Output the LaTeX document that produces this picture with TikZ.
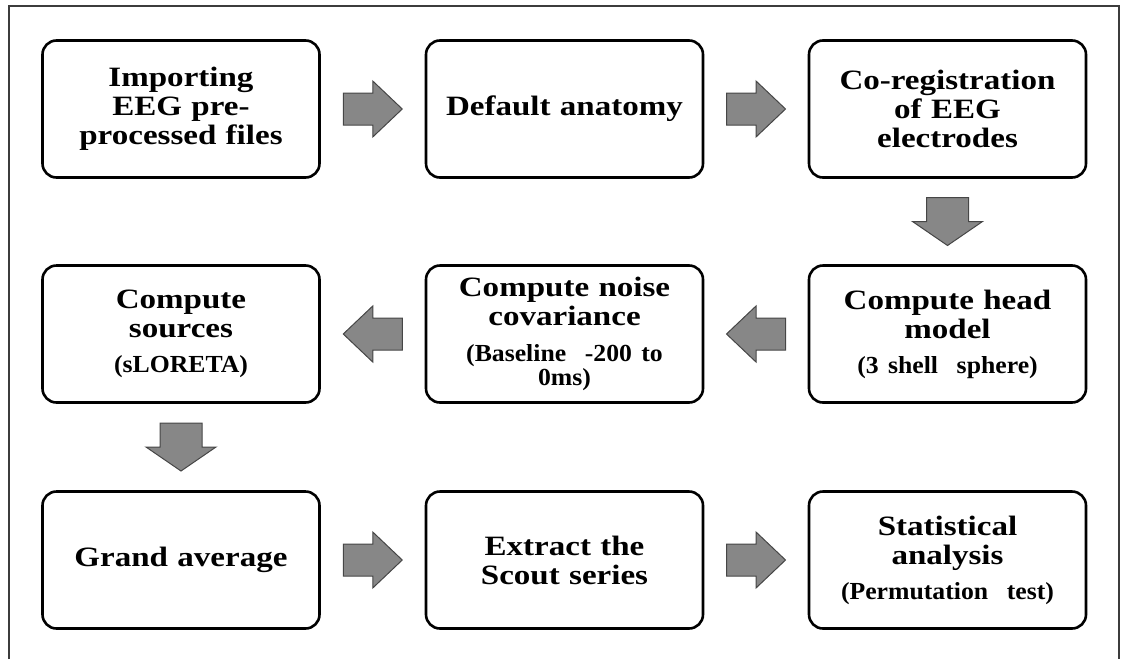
\documentclass[tikz,border=0pt]{standalone}
\usepackage{fontspec}
\newfontfamily\boxfont{Liberation Serif}[FakeStretch=1.18]
\newfontfamily\subfont{Liberation Serif}[FakeStretch=1.05]
\definecolor{arrowfill}{RGB}{135,135,135}
\definecolor{arrowline}{RGB}{70,70,70}
\definecolor{framecol}{RGB}{60,60,60}
\newcommand\sublabel[1]{{\subfont\bfseries\fontsize{24.5}{24}\selectfont #1\par}}
\newcommand\hblock[2]{%
  \draw[blockarrow, shift={(#1)}, xscale=#2]
    (-29.5,-16) -- (0,-16) -- (0,-28) -- (29.5,0) -- (0,28) -- (0,16) -- (-29.5,16) -- cycle;}
\newcommand\vblock[1]{%
  \draw[blockarrow, shift={(#1)}]
    (-21,-24) -- (-21,0) -- (-35,0) -- (0,24) -- (35,0) -- (21,0) -- (21,-24) -- cycle;}
\tikzset{
  stepbox/.style={draw=black, line width=2.6pt, rounded corners=14pt, fill=white,
    minimum width=277pt, minimum height=137pt, text width=263pt, inner sep=7pt,
    align=center, font=\boxfont\bfseries\fontsize{28}{29}\selectfont},
  blockarrow/.style={fill=arrowfill, draw=arrowline, line width=1pt, line join=miter},
  frameline/.style={draw=framecol, line width=1.6pt}
}
\begin{document}
\begin{tikzpicture}[x=1pt,y=-1pt]
\useasboundingbox (0,0) rectangle (1123,659);
\draw[frameline] (9,659) -- (9,6) -- (1119,6) -- (1119,659);

\node[stepbox] (imp) at (181,109) {Importing\\EEG pre-\\processed files};
\node[stepbox] (anat) at (564.5,109) {Default anatomy};
\node[stepbox] (coreg) at (947.5,109) {Co-registration\\of EEG\\electrodes};

\node[stepbox] (src) at (181,334) {Compute\\sources\par\vspace{11pt}\sublabel{(sLORETA)}};
\node[stepbox] (noise) at (564.5,334) {Compute noise\\covariance\par\vspace{12pt}\sublabel{(Baseline\ \ -200 to\\0ms)}};
\node[stepbox] (head) at (947.5,334) {Compute head\\model\par\vspace{11pt}\sublabel{(3 shell\ \ sphere)}};

\node[stepbox] (grand) at (181,560) {Grand average};
\node[stepbox] (scout) at (564.5,560) {Extract the\\Scout series};
\node[stepbox] (stat) at (947.5,560) {Statistical\\analysis\par\vspace{11pt}\sublabel{(Permutation\ \ test)}};

\path (imp.east) -- (anat.west) coordinate[midway] (a1);
\path (anat.east) -- (coreg.west) coordinate[midway] (a2);
\path (coreg.south) -- (head.north) coordinate[midway] (a3);
\path (head.west) -- (noise.east) coordinate[midway] (a4);
\path (noise.west) -- (src.east) coordinate[midway] (a5);
\path (src.south) -- (grand.north) coordinate[midway] (a6);
\path (grand.east) -- (scout.west) coordinate[midway] (a7);
\path (scout.east) -- (stat.west) coordinate[midway] (a8);

\hblock{a1}{1}
\hblock{a2}{1}
\vblock{a3}
\hblock{a4}{-1}
\hblock{a5}{-1}
\vblock{a6}
\hblock{a7}{1}
\hblock{a8}{1}
\end{tikzpicture}
\end{document}
